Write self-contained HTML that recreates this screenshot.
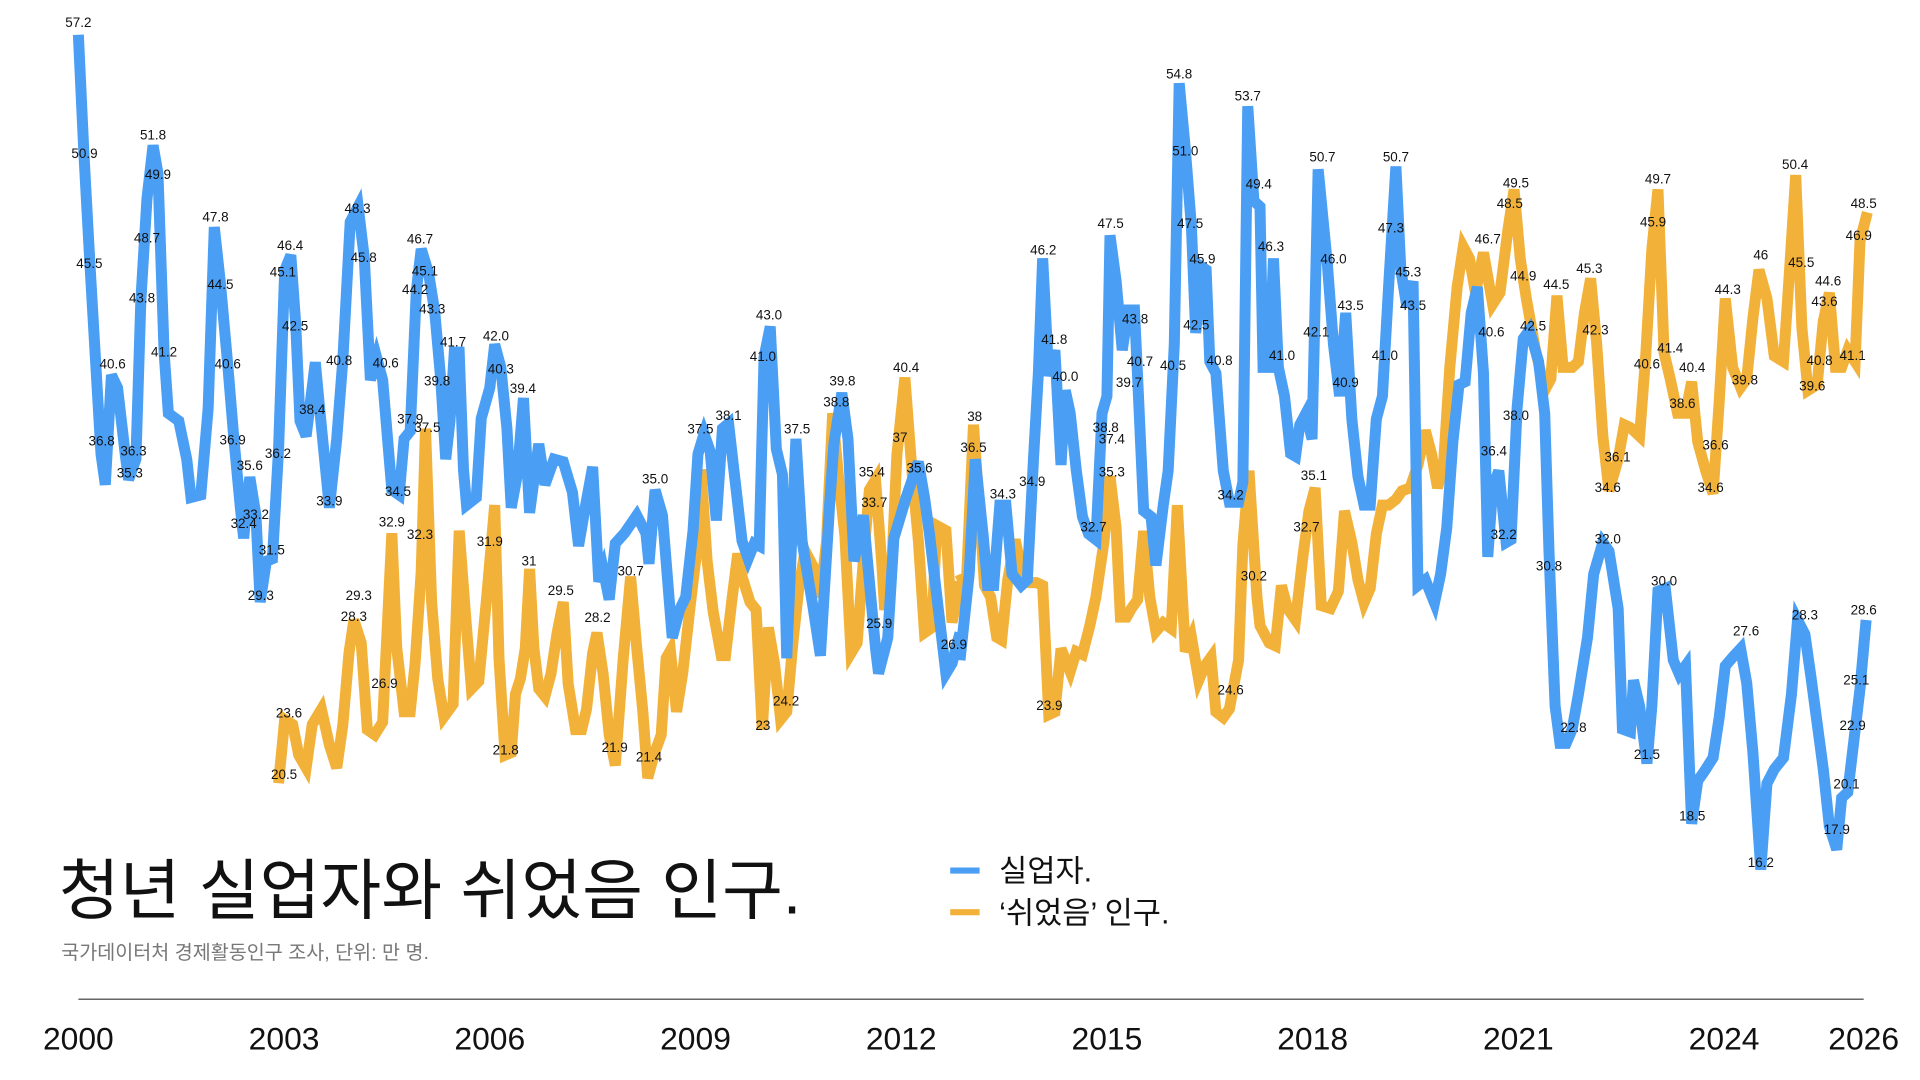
<!DOCTYPE html>
<html><head><meta charset="utf-8"><style>
html,body{margin:0;padding:0;background:#fff;}
svg{display:block;}
text{font-family:"Liberation Sans","Noto Sans CJK KR",sans-serif;}
</style></head><body>
<svg width="1920" height="1080" viewBox="0 0 1568 882" xmlns="http://www.w3.org/2000/svg">
<g fill="none" stroke-linejoin="miter" stroke-linecap="butt">
<g transform="scale(0.5,0.4167)">
<polyline vector-effect="non-scaling-stroke" stroke="#f2b23a" stroke-width="11" points="455,1535 465,1410 478,1420 488,1480 500,1505 510,1420 525,1390 538,1460 550,1505 560,1420 570,1280 578,1215 590,1260 600,1430 612,1440 625,1415 640,1045 648,1270 660,1395 670,1395 678,1300 688,1120 695,840 705,1180 715,1330 725,1405 740,1380 750,1040 760,1200 770,1350 782,1335 795,1170 808,990 815,1290 825,1480 835,1475 842,1360 850,1330 858,1270 865,1115 872,1270 880,1350 890,1365 900,1320 910,1240 920,1180 928,1340 940,1430 950,1430 958,1390 968,1280 975,1240 985,1320 995,1440 1005,1500 1018,1290 1030,1130 1040,1270 1050,1395 1058,1525 1068,1480 1080,1440 1088,1290 1095,1275 1105,1395 1115,1320 1128,1180 1140,1060 1145,920 1155,1100 1165,1200 1178,1285 1185,1285 1195,1180 1205,1085 1212,1130 1225,1180 1235,1195 1245,1430 1255,1230 1265,1300 1275,1410 1285,1395 1295,1260 1305,1150 1315,1080 1328,1110 1340,1170 1350,1060 1360,810 1370,940 1380,1050 1390,1280 1400,1260 1410,1100 1420,960 1430,940 1440,1100 1445,1195 1455,1150 1465,890 1478,740 1490,930 1500,1060 1510,1240 1522,1230 1530,1030 1545,1040 1555,1220 1568,1140"/>
<polyline vector-effect="non-scaling-stroke" stroke="#4a9ff5" stroke-width="11" points="128,68 137,300 147,520 165,890 172,950 182,735 192,760 205,895 210,940 222,900 230,590 240,390 250,285 258,340 268,690 275,810 292,825 305,900 312,975 328,970 340,800 350,445 360,555 372,715 382,860 393,1000 398,1055 408,935 418,1010 425,1180 435,1100 445,1095 455,880 465,530 475,500 483,635 490,825 500,855 515,710 522,800 538,995 550,860 560,705 572,435 585,405 595,505 605,745 615,700 625,745 640,960 652,970 660,860 670,845 680,570 688,488 700,535 710,610 720,745 728,900 735,825 742,690 750,690 757,920 762,990 778,975 786,820 800,760 808,675 818,720 828,840 835,995 845,930 855,780 865,1005 880,870 890,950 905,900 920,905 935,965 945,1070 955,1000 968,915 978,1140 985,1115 995,1175 1005,1065 1020,1045 1040,1010 1055,1045 1060,1105 1070,960 1082,1010 1098,1250 1110,1195 1120,1170 1132,1040 1140,890 1150,850 1160,885 1170,1020 1180,840 1190,830 1200,935 1212,1060 1222,1095 1232,1065 1240,1070 1248,700 1258,640 1268,880 1278,930 1285,1290 1300,860 1310,1060 1328,1190 1340,1285 1355,990 1362,870 1375,770 1385,860 1395,1100 1410,1010 1430,1270 1435,1320 1450,1250 1460,1055 1480,975 1500,905 1510,975 1518,1045 1545,1320 1555,1300 1568,1240"/>
</g>
<g transform="translate(784,0) scale(0.5,0.4688)">
<polyline vector-effect="non-scaling-stroke" stroke="#f2b23a" stroke-width="11" points="0,1000 10,1025 22,740 32,890 40,1020 50,1040 60,1110 68,1115 78,1010 90,940 100,990 112,1015 125,1015 135,1020 145,1245 155,1240 165,1130 180,1170 190,1135 200,1140 212,1090 222,1040 235,945 245,830 255,920 262,1075 272,1075 280,1060 290,1045 300,925 310,1040 320,1100 332,1085 345,1095 355,880 368,1135 378,1110 390,1185 400,1160 410,1145 418,1240 430,1250 440,1235 455,1150 462,950 472,820 485,1040 490,1090 505,1120 515,1125 525,1020 535,1060 548,1080 560,970 570,890 580,850 590,1055 605,1060 618,1030 628,890 640,945 650,1010 660,1050 670,1025 680,930 690,880 700,880 712,870 722,855 735,850 748,810 760,750 770,790 780,850 790,805 800,640 812,500 822,430 832,450 842,510 855,440 870,530 882,510 895,400 905,330 915,450 925,520 940,610 955,680 965,660 975,515 985,640 1000,640 1010,630 1020,545 1030,485 1040,600 1050,760 1060,855 1075,800 1085,740 1095,745 1110,760 1120,620 1130,435 1140,330 1150,615 1160,660 1172,720 1185,720 1195,665 1205,770 1218,820 1230,860 1240,700 1250,520 1262,640 1275,675 1285,660 1295,555 1305,470 1318,520 1330,620 1345,630 1355,470 1365,305 1375,570 1385,680 1400,670 1410,560 1420,510 1430,640 1440,640 1450,610 1462,630 1470,420 1482,370"/>
<polyline vector-effect="non-scaling-stroke" stroke="#4a9ff5" stroke-width="11" points="0,1150 15,1000 25,800 38,935 45,1020 55,1020 65,880 75,880 85,1000 100,1020 110,1010 120,800 128,650 135,450 145,655 155,610 165,810 172,680 180,720 190,820 200,900 210,930 222,940 232,720 240,690 245,410 255,490 265,610 275,540 285,540 290,655 300,890 312,900 320,985 332,880 340,820 350,600 358,145 368,260 378,395 385,580 395,465 402,470 408,630 418,650 430,820 440,875 455,875 462,840 470,185 480,350 490,360 495,640 505,640 512,450 520,640 530,690 540,790 548,795 555,740 565,720 575,765 585,295 600,460 610,600 620,690 630,545 640,730 650,830 660,880 670,880 680,730 690,690 700,500 712,290 720,470 730,535 740,490 748,1020 760,1010 775,1050 785,1000 795,920 805,770 815,670 825,665 835,545 845,500 855,650 862,970 870,850 880,820 892,945 900,940 910,710 920,590 930,575 945,630 955,720 962,960 972,1230 980,1295 990,1295 1000,1270 1010,1210 1025,1110 1035,1000 1050,945 1060,960 1075,1060 1082,1270 1095,1275 1100,1185 1110,1230 1122,1330 1130,1230 1140,1030 1152,1025 1165,1150 1175,1175 1185,1160 1195,1435 1205,1360 1215,1345 1230,1320 1240,1250 1250,1160 1262,1145 1275,1130 1285,1190 1295,1310 1308,1515 1318,1365 1330,1340 1345,1320 1358,1210 1368,1080 1380,1105 1390,1180 1400,1260 1410,1340 1420,1440 1432,1480 1440,1390 1450,1380 1460,1290 1470,1200 1480,1080"/>
</g>
</g>
<g font-size="11" fill="#111" text-anchor="middle">
<text x="64" y="22">57.2</text><text x="69" y="129">50.9</text><text x="73" y="219">45.5</text><text x="83" y="364">36.8</text><text x="92" y="301">40.6</text><text x="106" y="390">35.3</text><text x="109" y="372">36.3</text><text x="116" y="247">43.8</text><text x="120" y="198">48.7</text><text x="125" y="114">51.8</text><text x="129" y="146">49.9</text><text x="134" y="291">41.2</text>
<text x="176" y="181">47.8</text><text x="180" y="236">44.5</text><text x="186" y="301">40.6</text><text x="190" y="363">36.9</text><text x="199" y="431">32.4</text><text x="204" y="384">35.6</text><text x="209" y="424">33.2</text><text x="213" y="490">29.3</text><text x="222" y="453">31.5</text><text x="227" y="374">36.2</text><text x="231" y="226">45.1</text><text x="237" y="204">46.4</text><text x="241" y="270">42.5</text><text x="255" y="338">38.4</text><text x="269" y="413">33.9</text><text x="277" y="298">40.8</text><text x="292" y="174">48.3</text><text x="297" y="214">45.8</text><text x="315" y="300">40.6</text><text x="325" y="405">34.5</text><text x="335" y="346">37.9</text><text x="339" y="240">44.2</text><text x="343" y="199">46.7</text><text x="347" y="225">45.1</text><text x="353" y="256">43.3</text><text x="357" y="315">39.8</text><text x="370" y="283">41.7</text><text x="405" y="278">42.0</text><text x="409" y="305">40.3</text><text x="427" y="321">39.4</text>
<text x="320" y="430">32.9</text><text x="349" y="353">37.5</text><text x="343" y="440">32.3</text><text x="400" y="446">31.9</text><text x="232" y="636">20.5</text><text x="236" y="586">23.6</text><text x="293" y="490">29.3</text><text x="289" y="507">28.3</text><text x="314" y="562">26.9</text><text x="432" y="462">31</text><text x="458" y="486">29.5</text><text x="488" y="508">28.2</text><text x="515" y="470">30.7</text><text x="413" y="616">21.8</text><text x="502" y="614">21.9</text><text x="530" y="622">21.4</text><text x="623" y="596">23</text><text x="642" y="576">24.2</text>
<text x="535" y="395">35.0</text><text x="572" y="354">37.5</text><text x="595" y="343">38.1</text><text x="628" y="261">43.0</text><text x="623" y="295">41.0</text><text x="651" y="354">37.5</text><text x="688" y="315">39.8</text><text x="683" y="332">38.8</text><text x="740" y="304">40.4</text><text x="735" y="361">37</text><text x="751" y="386">35.6</text><text x="712" y="389">35.4</text><text x="714" y="414">33.7</text><text x="718" y="513">25.9</text><text x="779" y="530">26.9</text>
<text x="796" y="344">38</text><text x="795" y="369">36.5</text><text x="819" y="407">34.3</text><text x="852" y="208">46.2</text><text x="861" y="281">41.8</text><text x="870" y="311">40.0</text><text x="843" y="397">34.9</text><text x="857" y="580">23.9</text><text x="907" y="186">47.5</text><text x="927" y="264">43.8</text><text x="931" y="299">40.7</text><text x="922" y="316">39.7</text><text x="903" y="353">38.8</text><text x="908" y="362">37.4</text><text x="908" y="389">35.3</text><text x="893" y="434">32.7</text>
<text x="963" y="64">54.8</text><text x="968" y="127">51.0</text><text x="972" y="186">47.5</text><text x="982" y="215">45.9</text><text x="977" y="269">42.5</text><text x="958" y="302">40.5</text><text x="996" y="298">40.8</text><text x="1019" y="82">53.7</text><text x="1028" y="154">49.4</text><text x="1038" y="205">46.3</text><text x="1047" y="294">41.0</text><text x="1005" y="408">34.2</text><text x="1024" y="474">30.2</text><text x="1005" y="567">24.6</text>
<text x="1080" y="132">50.7</text><text x="1089" y="215">46.0</text><text x="1103" y="253">43.5</text><text x="1075" y="275">42.1</text><text x="1099" y="316">40.9</text><text x="1140" y="132">50.7</text><text x="1136" y="190">47.3</text><text x="1150" y="226">45.3</text><text x="1154" y="253">43.5</text><text x="1131" y="294">41.0</text><text x="1073" y="392">35.1</text><text x="1067" y="434">32.7</text>
<text x="1238" y="153">49.5</text><text x="1233" y="170">48.5</text><text x="1215" y="199">46.7</text><text x="1244" y="229">44.9</text><text x="1271" y="236">44.5</text><text x="1298" y="223">45.3</text><text x="1303" y="273">42.3</text><text x="1252" y="270">42.5</text><text x="1218" y="275">40.6</text><text x="1238" y="343">38.0</text><text x="1220" y="372">36.4</text><text x="1228" y="440">32.2</text><text x="1265" y="466">30.8</text><text x="1313" y="444">32.0</text><text x="1285" y="598">22.8</text><text x="1313" y="402">34.6</text><text x="1321" y="377">36.1</text>
<text x="1354" y="150">49.7</text><text x="1350" y="185">45.9</text><text x="1364" y="288">41.4</text><text x="1345" y="301">40.6</text><text x="1374" y="333">38.6</text><text x="1382" y="304">40.4</text><text x="1397" y="402">34.6</text><text x="1401" y="367">36.6</text><text x="1411" y="240">44.3</text><text x="1438" y="212">46</text><text x="1425" y="314">39.8</text><text x="1466" y="138">50.4</text><text x="1471" y="218">45.5</text><text x="1493" y="233">44.6</text><text x="1490" y="250">43.6</text><text x="1513" y="294">41.1</text><text x="1486" y="298">40.8</text><text x="1480" y="319">39.6</text><text x="1522" y="170">48.5</text><text x="1518" y="196">46.9</text>
<text x="1359" y="478">30.0</text><text x="1382" y="670">18.5</text><text x="1438" y="708">16.2</text><text x="1474" y="506">28.3</text><text x="1500" y="681">17.9</text><text x="1522" y="502">28.6</text><text x="1516" y="559">25.1</text><text x="1513" y="596">22.9</text><text x="1508" y="644">20.1</text><text x="1426" y="519">27.6</text><text x="1345" y="620">21.5</text>
</g>
<line x1="64" y1="816" x2="1522" y2="816" stroke="#333" stroke-width="1"/>
<g font-size="26" fill="#111" text-anchor="middle">
<text x="64" y="857">2000</text><text x="232" y="857">2003</text><text x="400" y="857">2006</text><text x="568" y="857">2009</text><text x="736" y="857">2012</text><text x="904" y="857">2015</text><text x="1072" y="857">2018</text><text x="1240" y="857">2021</text><text x="1408" y="857">2024</text><text x="1522" y="857">2026</text>
</g>
<text x="48" y="746" font-size="54" fill="#111">청년 실업자와 쉬었음 인구.</text>
<text x="50" y="783" font-size="16" fill="#777">국가데이터처 경제활동인구 조사, 단위: 만 명.</text>
<line x1="776" y1="711" x2="800" y2="711" stroke="#4a9ff5" stroke-width="5"/>
<text x="816" y="720" font-size="25" fill="#111">실업자.</text>
<line x1="776" y1="745" x2="800" y2="745" stroke="#f2b23a" stroke-width="5"/>
<text x="816" y="754" font-size="25" fill="#111">‘쉬었음’ 인구.</text>
</svg>
</body></html>
